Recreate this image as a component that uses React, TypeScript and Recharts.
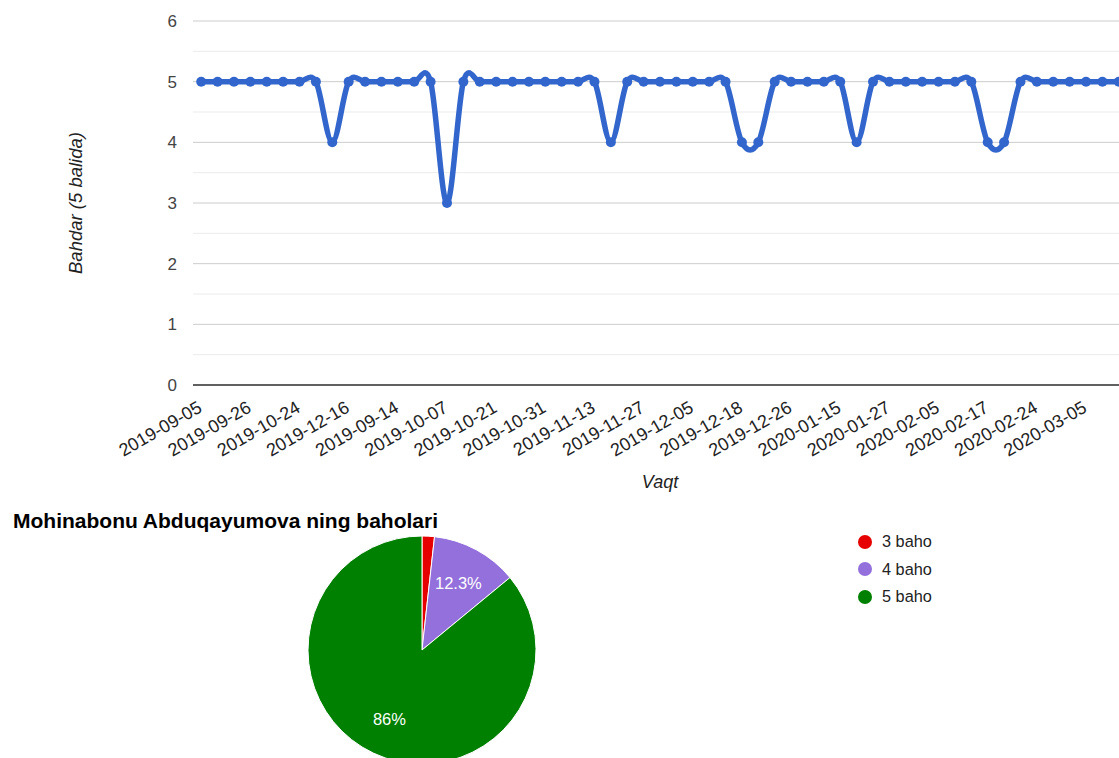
import React from 'react';
import {
  LineChart,
  Line,
  XAxis,
  YAxis,
  CartesianGrid,
  ReferenceLine,
  PieChart,
  Pie,
  Cell,
} from 'recharts';

const dates = [
  '2019-09-05', '2019-09-12', '2019-09-19', '2019-09-26', '2019-10-03', '2019-10-10',
  '2019-10-24', '2019-11-07', '2019-11-21', '2019-12-16', '2019-09-07', '2019-09-10',
  '2019-09-14', '2019-09-21', '2019-09-28', '2019-10-07', '2019-10-12', '2019-10-16',
  '2019-10-21', '2019-10-24', '2019-10-28', '2019-10-31', '2019-11-04', '2019-11-08',
  '2019-11-13', '2019-11-18', '2019-11-22', '2019-11-27', '2019-11-29', '2019-12-02',
  '2019-12-05', '2019-12-10', '2019-12-13', '2019-12-18', '2019-12-20', '2019-12-23',
  '2019-12-26', '2020-01-08', '2020-01-11', '2020-01-15', '2020-01-18', '2020-01-22',
  '2020-01-27', '2020-01-30', '2020-02-01', '2020-02-05', '2020-02-10', '2020-02-13',
  '2020-02-17', '2020-02-19', '2020-02-21', '2020-02-24', '2020-02-27', '2020-03-02',
  '2020-03-05', '2020-03-10', '2020-03-12',
];

const grades = [
  5, 5, 5, 5, 5, 5, 5, 5, 4, 5, 5, 5, 5, 5, 5, 3, 5, 5, 5, 5,
  5, 5, 5, 5, 5, 4, 5, 5, 5, 5, 5, 5, 5, 4, 4, 5, 5, 5, 5, 5,
  4, 5, 5, 5, 5, 5, 5, 5, 4, 4, 5, 5, 5, 5, 5, 5, 5,
];

const yTicks = [0, 1, 2, 3, 4, 5, 6];
const minorTicks = [0.5, 1.5, 2.5, 3.5, 4.5, 5.5];

const gradeNames = ['3 baho', '4 baho', '5 baho'];
const gradeCounts = [1, 7, 49];
const gradeColors = ['#e60000', '#9370db', '#008000'];

const lineData = dates.map((date, i) => ({ date, baho: grades[i] }));
const pieData = gradeNames.map((name, i) => ({ name, value: gradeCounts[i] }));

const FONT = 'Arial, "Liberation Sans", sans-serif';

// uniform catmull-rom, close to google's curveType: 'function'
const smoothCurve = (context: any) => {
  let pts: number[][] = [];
  return {
    areaStart() {},
    areaEnd() {},
    lineStart() { pts = []; },
    point(x: number, y: number) { pts.push([+x, +y]); },
    lineEnd() {
      const n = pts.length;
      if (!n) return;
      context.moveTo(pts[0][0], pts[0][1]);
      for (let i = 0; i < n - 1; i++) {
        const p0 = pts[Math.max(i - 1, 0)];
        const p1 = pts[i];
        const p2 = pts[i + 1];
        const p3 = pts[Math.min(i + 2, n - 1)];
        context.bezierCurveTo(
          p1[0] + (p2[0] - p0[0]) / 6, p1[1] + (p2[1] - p0[1]) / 6,
          p2[0] - (p3[0] - p1[0]) / 6, p2[1] - (p3[1] - p1[1]) / 6,
          p2[0], p2[1],
        );
      }
    },
  };
};

const DateTick = ({ x, y, payload }: any) => {
  const ax = x + 2;
  const ay = y + 26;
  return (
    <text x={ax} y={ay} transform={`rotate(-30, ${ax}, ${ay})`} textAnchor="end" fontSize={18} fill="#222">
      {payload.value}
    </text>
  );
};

const RADIAN = Math.PI / 180;

const sliceLabel = ({ cx, cy, midAngle, outerRadius, percent }: any) => {
  if (percent < 0.05) return null;
  const r = outerRadius * 0.67;
  const x = cx + r * Math.cos(-midAngle * RADIAN);
  const y = cy + r * Math.sin(-midAngle * RADIAN);
  const txt = (percent * 100).toFixed(1).replace(/\.0$/, '') + '%';
  return (
    <text x={x} y={y} fill="#fff" fontSize={16.5} textAnchor="middle" dominantBaseline="central">
      {txt}
    </text>
  );
};

export default function App() {
  return (
    <div style={{ position: 'absolute', left: 0, top: 0, width: 1119, height: 758, overflow: 'hidden', background: '#fff', fontFamily: FONT }}>
      <div style={{ position: 'absolute', left: 0, top: 0 }}>
        <LineChart width={1140} height={500} data={lineData} margin={{ top: 21, right: 13, bottom: 0, left: 0 }}>
          <CartesianGrid vertical={false} stroke="#cccccc" />
          {minorTicks.map((v) => (
            <ReferenceLine key={v} y={v} stroke="#ebebeb" />
          ))}
          <ReferenceLine y={0} stroke="#333" strokeWidth={1.5} />
          <XAxis
            dataKey="date"
            height={115}
            interval={2}
            tick={<DateTick />}
            tickLine={false}
            axisLine={false}
            tickSize={0}
            tickMargin={0}
            padding={{ left: 8.2, right: 8.2 }}
            label={{ value: 'Vaqt', position: 'insideBottom', offset: 12, style: { fontStyle: 'italic', fill: '#222', fontSize: 18 } }}
          />
          <YAxis
            width={193}
            domain={[0, 6]}
            ticks={yTicks}
            tickLine={false}
            axisLine={false}
            tickSize={0}
            tickMargin={16}
            tick={{ fontSize: 17, fill: '#444' }}
            label={{ value: 'Bahdar (5 balida)', angle: -90, position: 'center', dx: -21, style: { fontStyle: 'italic', fill: '#222', fontSize: 18.5, textAnchor: 'middle' } }}
          />
          <Line
            dataKey="baho"
            type={smoothCurve as any}
            stroke="#3366cc"
            strokeWidth={5.5}
            dot={{ r: 5, fill: '#3366cc', stroke: '#3366cc', strokeWidth: 0 }}
            activeDot={false}
            isAnimationActive={false}
          />
        </LineChart>
      </div>

      <div style={{ position: 'absolute', left: 13, top: 509, fontSize: 21, fontWeight: 'bold', color: '#000', lineHeight: '24px', whiteSpace: 'nowrap' }}>
        Mohinabonu Abduqayumova ning baholari
      </div>

      <div style={{ position: 'absolute', left: 0, top: 500 }}>
        <PieChart width={1119} height={258} margin={{ top: 0, right: 0, bottom: 0, left: 0 }}>
          <Pie
            data={pieData}
            dataKey="value"
            nameKey="name"
            cx={422}
            cy={150}
            outerRadius={114}
            startAngle={90}
            endAngle={-270}
            stroke="#fff"
            strokeWidth={1}
            label={sliceLabel}
            labelLine={false}
            isAnimationActive={false}
          >
            {pieData.map((d, i) => (
              <Cell key={d.name} fill={gradeColors[i]} />
            ))}
          </Pie>
        </PieChart>
      </div>

      <div style={{ position: 'absolute', left: 858, top: 528 }}>
        {gradeNames.map((name, i) => (
          <div key={name} style={{ display: 'flex', alignItems: 'center', height: 27.5, fontSize: 16.3, color: '#222' }}>
            <span style={{ width: 14, height: 14, borderRadius: '50%', background: gradeColors[i], marginRight: 10 }} />
            {name}
          </div>
        ))}
      </div>
    </div>
  );
}
